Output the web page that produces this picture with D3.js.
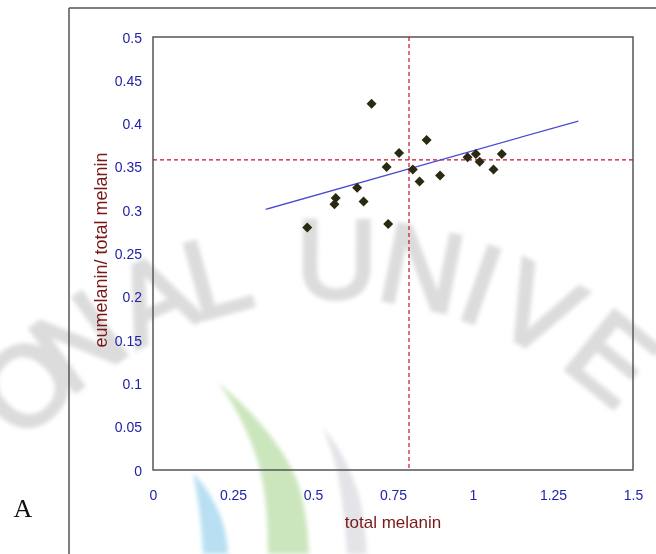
<!DOCTYPE html>
<html>
<head>
<meta charset="utf-8">
<script src="https://cdn.jsdelivr.net/npm/d3@7/dist/d3.min.js"></script>
<style>
    body { margin: 0; background: #fff; }
    svg { display: block; }
</style>
</head>
<body>
<svg id="chart" width="656" height="554"></svg>
<script>
// values
var totalMelanin = [0.683, 0.855, 0.769, 0.730, 0.812, 0.833, 0.897, 0.983, 1.009,
    1.021, 1.064, 1.090, 0.638, 0.658, 0.571, 0.567, 0.735, 0.482];
var eumelaninRatio = [0.423, 0.381, 0.366, 0.350, 0.347, 0.333, 0.340, 0.361, 0.365,
    0.356, 0.347, 0.365, 0.326, 0.310, 0.314, 0.307, 0.284, 0.280];
var xTicks = [0, 0.25, 0.5, 0.75, 1, 1.25, 1.5];
var yTicks = [0, 0.05, 0.1, 0.15, 0.2, 0.25, 0.3, 0.35, 0.4, 0.45, 0.5];
var fitX = [0.352, 1.329];
var fitY = [0.301, 0.403];
var meanX = 0.8;
var meanY = 0.358;

// background watermark
var watermarkLetters = ["O", "N", "A", "L", "U", "N", "I", "V", "E"];
var watermarkAngles = [-44.5, -35.6, -24.2, -15.6, 0.2, 11.4, 19.4, 27.5, 39];

document.addEventListener('DOMContentLoaded', function () {
    drawChart();
});

function drawChart() {
    var svg = d3.select('#chart');
    var left = 153, right = 633, top = 37, bottom = 470;

    var defs = svg.append('defs');
    defs.append('filter').attr('id', 'soft')
        .append('feGaussianBlur').attr('stdDeviation', 2);

    // watermark: swooshes + arched letters
    var wm = svg.append('g').attr('filter', 'url(#soft)');
    wm.append('path')
        .attr('d', 'M218,382 C245,405 280,440 296,478 C305,500 308,530 309,554 L268,554 C268,520 266,490 258,462 C250,435 235,405 218,382 Z')
        .attr('fill', '#cbe6bd');
    wm.append('path')
        .attr('d', 'M193,473 C205,485 218,505 224,527 C227,540 228,548 228,554 L203,554 C202,530 199,500 193,473 Z')
        .attr('fill', '#b8e0f2');
    wm.append('path')
        .attr('d', 'M323,428 C338,445 352,470 360,500 C364,520 366,540 367,554 L347,554 C346,530 343,500 337,470 C333,455 328,440 323,428 Z')
        .attr('fill', '#e3e3e8');

    wm.selectAll('.wmLetter')
        .data(watermarkLetters)
        .enter()
        .append('text')
        .attr('class', 'wmLetter')
        .attr('transform', (d, i) => 'translate(335,700) rotate(' + watermarkAngles[i] + ') translate(0,-442)')
        .attr('y', 40)
        .attr('text-anchor', 'middle')
        .style('font-family', 'Liberation Sans, Arial, sans-serif')
        .style('font-size', '112px')
        .style('fill', '#dcdcdc')
        .style('stroke', '#dcdcdc')
        .style('stroke-width', 4)
        .text(d => d);

    // outer frame (top and left only)
    svg.append('line').attr('x1', 69).attr('y1', 8).attr('x2', 656).attr('y2', 8)
        .style('stroke', '#555').style('stroke-width', 1.5);
    svg.append('line').attr('x1', 69).attr('y1', 8).attr('x2', 69).attr('y2', 554)
        .style('stroke', '#555').style('stroke-width', 1.5);

    svg.append('text')
        .attr('x', 23).attr('y', 517)
        .attr('text-anchor', 'middle')
        .style('font-family', 'Liberation Serif, Times New Roman, serif')
        .style('font-size', '26px')
        .style('fill', '#111')
        .text('A');

    let xScale = d3.scaleLinear().domain([0, 1.5]).range([left, right]);
    let yScale = d3.scaleLinear().domain([0, 0.5]).range([bottom, top]);

    let axisBottom = d3.axisBottom(xScale).tickValues(xTicks).tickSize(0).tickPadding(20)
        .tickFormat(d => String(d));
    let axisLeft = d3.axisLeft(yScale).tickValues(yTicks).tickSize(0).tickPadding(11)
        .tickFormat(d => String(d));

    var gx = svg.append('g').attr('transform', 'translate(0,' + bottom + ')').call(axisBottom);
    var gy = svg.append('g').attr('transform', 'translate(' + left + ',0)').call(axisLeft);
    [gx, gy].forEach(function (g) {
        g.select('.domain').remove();
        g.selectAll('text')
            .style('font-family', 'Liberation Sans, Arial, sans-serif')
            .style('font-size', '14px')
            .style('fill', '#2222a8');
    });
    gy.selectAll('text').attr('dy', '0.36em');

    // plot frame
    svg.append('rect')
        .attr('x', left).attr('y', top)
        .attr('width', right - left).attr('height', bottom - top)
        .style('fill', 'none').style('stroke', '#555').style('stroke-width', 1.5);

    // reference dashed lines
    svg.append('line')
        .attr('x1', xScale(meanX)).attr('x2', xScale(meanX))
        .attr('y1', yScale(0.5)).attr('y2', yScale(0))
        .style('stroke', '#c8102e').style('stroke-width', 1.2)
        .style('stroke-dasharray', '4,3');
    svg.append('line')
        .attr('x1', xScale(0)).attr('x2', xScale(1.5))
        .attr('y1', yScale(meanY)).attr('y2', yScale(meanY))
        .style('stroke', '#c8102e').style('stroke-width', 1.2)
        .style('stroke-dasharray', '4,3');

    // trend line
    svg.append('line')
        .attr('x1', xScale(fitX[0])).attr('y1', yScale(fitY[0]))
        .attr('x2', xScale(fitX[1])).attr('y2', yScale(fitY[1]))
        .style('stroke', '#4a4ad0').style('stroke-width', 1.3);

    // points
    var diamond = d3.symbol().type(d3.symbolSquare).size(50);
    svg.selectAll('.pt')
        .data(totalMelanin)
        .enter()
        .append('path')
        .attr('class', 'pt')
        .attr('d', diamond)
        .attr('transform', (d, i) => 'translate(' + xScale(d) + ',' + yScale(eumelaninRatio[i]) + ') rotate(45)')
        .style('fill', '#2a2a12');

    // axis titles
    svg.append('text')
        .attr('x', 393).attr('y', 528)
        .attr('text-anchor', 'middle')
        .style('font-family', 'Liberation Sans, Arial, sans-serif')
        .style('font-size', '17px')
        .style('fill', '#7a1818')
        .text('total melanin');

    svg.append('text')
        .attr('transform', 'translate(107,250) rotate(-90)')
        .attr('text-anchor', 'middle')
        .style('font-family', 'Liberation Sans, Arial, sans-serif')
        .style('font-size', '18px')
        .style('fill', '#7a1818')
        .text('eumelanin/ total melanin');
}
</script>
</body>
</html>
